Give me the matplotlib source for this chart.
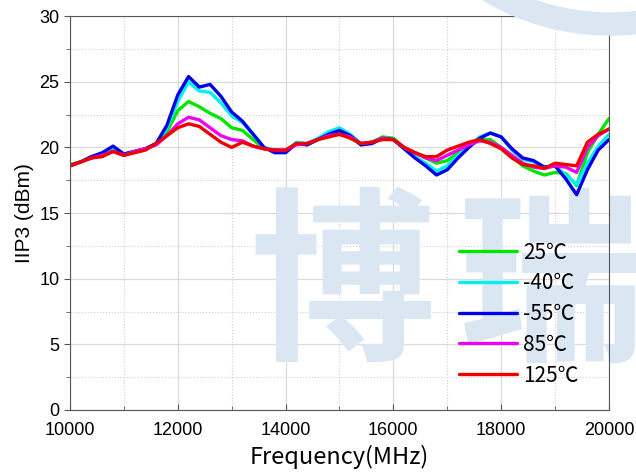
import numpy as np
import matplotlib.pyplot as plt
from matplotlib.patches import Wedge
from matplotlib.transforms import IdentityTransform
from matplotlib.ticker import MultipleLocator

plt.rcParams['font.family'] = ['Noto Sans CJK SC', 'DejaVu Sans']

# Frequency grid (MHz)
freq = np.arange(10000, 20001, 200)

# IIP3 (dBm) per temperature
iip3_25 = [18.7, 18.9, 19.3, 19.4, 19.7, 19.4, 19.7, 19.9, 20.3, 21.2,
           22.8, 23.5, 23.1, 22.6, 22.2, 21.5, 21.3, 20.6, 19.9, 19.8,
           19.7, 20.3, 20.2, 20.6, 20.9, 21.1, 20.8, 20.2, 20.4, 20.8,
           20.7, 20.0, 19.6, 19.2, 18.8, 19.0, 19.6, 20.2, 20.6, 20.6,
           20.0, 19.3, 18.6, 18.2, 17.9, 18.1, 18.0, 17.1, 19.6, 21.0, 22.2]
iip3_m40 = [18.6, 18.9, 19.2, 19.5, 19.8, 19.5, 19.7, 19.9, 20.3, 21.5,
            23.5, 25.0, 24.3, 24.2, 23.4, 22.4, 21.9, 21.0, 20.0, 19.8,
            19.7, 20.4, 20.3, 20.7, 21.2, 21.5, 21.0, 20.3, 20.3, 20.7,
            20.6, 19.9, 19.3, 18.8, 18.2, 18.6, 19.4, 20.1, 20.8, 21.1,
            20.8, 19.8, 19.1, 18.9, 18.5, 18.6, 17.9, 17.2, 18.8, 20.1, 21.0]
iip3_m55 = [18.6, 18.9, 19.3, 19.6, 20.1, 19.5, 19.7, 19.9, 20.3, 21.7,
            24.0, 25.4, 24.6, 24.8, 23.9, 22.7, 22.0, 21.0, 20.0, 19.6,
            19.6, 20.3, 20.2, 20.6, 21.0, 21.3, 20.9, 20.2, 20.3, 20.7,
            20.6, 19.9, 19.2, 18.6, 17.9, 18.3, 19.2, 20.0, 20.7, 21.1,
            20.8, 19.9, 19.2, 19.0, 18.5, 18.6, 17.6, 16.4, 18.3, 19.8, 20.6]
iip3_85 = [18.6, 18.9, 19.2, 19.4, 19.7, 19.4, 19.7, 19.9, 20.2, 20.9,
           21.8, 22.3, 22.1, 21.5, 20.9, 20.6, 20.5, 20.1, 19.9, 19.8,
           19.8, 20.2, 20.3, 20.6, 20.9, 21.0, 20.8, 20.3, 20.4, 20.7,
           20.6, 20.0, 19.6, 19.2, 19.0, 19.4, 19.8, 20.2, 20.5, 20.4,
           20.0, 19.4, 18.8, 18.5, 18.4, 18.6, 18.5, 18.1, 20.0, 20.9, 21.4]
iip3_125 = [18.6, 18.9, 19.2, 19.3, 19.7, 19.4, 19.6, 19.8, 20.3, 20.9,
            21.5, 21.8, 21.6, 21.0, 20.4, 20.0, 20.4, 20.1, 19.9, 19.8,
            19.8, 20.3, 20.3, 20.6, 20.8, 21.0, 20.7, 20.3, 20.4, 20.6,
            20.6, 20.0, 19.6, 19.3, 19.3, 19.8, 20.1, 20.4, 20.6, 20.3,
            19.9, 19.2, 18.7, 18.6, 18.4, 18.8, 18.7, 18.6, 20.4, 21.0, 21.4]

series = [
    ('25℃', iip3_25, '#00e600'),
    ('-40℃', iip3_m40, '#00f0f0'),
    ('-55℃', iip3_m55, '#0000e6'),
    ('85℃', iip3_85, '#f000f0'),
    ('125℃', iip3_125, '#f00000'),
]

fig = plt.figure(figsize=(6.36, 4.76), dpi=100)
ax = fig.add_axes([0.110, 0.1387, 0.8475, 0.8273])

# background logo: ring arc + characters (between grid and curves)
wm = '#dae7f3'
fig.patches.append(Wedge((610, 689), 248, 0, 360, width=22, color=wm,
                         transform=IdentityTransform(), zorder=0))
for ch, xc in [('博', 0.539), ('瑞', 0.865)]:
    ax.text(xc, 0.389, ch, transform=fig.transFigure, fontsize=134,
            fontweight='heavy', color=wm, ha='center', va='center',
            clip_on=False, zorder=1.2)
ax.patch.set_alpha(0)

for label, y, c in series:
    ax.plot(freq, y, color=c, lw=2.4, label=label, solid_joinstyle='round',
            solid_capstyle='round', zorder=2)

ax.set_xlim(10000, 20000)
ax.set_ylim(0, 30)
ax.xaxis.set_major_locator(MultipleLocator(2000))
ax.xaxis.set_minor_locator(MultipleLocator(1000))
ax.yaxis.set_major_locator(MultipleLocator(5))
ax.yaxis.set_minor_locator(MultipleLocator(2.5))
ax.grid(True, which='major', color='#dadada', lw=0.9)
ax.grid(True, which='minor', color='#cfcfcf', lw=0.8, ls=':')
ax.set_axisbelow(True)
ax.tick_params(which='both', labelsize=13, color='#555555',
               labelfontfamily='Liberation Sans')
ax.tick_params(axis='x', which='both', direction='in', pad=9)
ax.tick_params(axis='y', which='both', direction='out')
ax.tick_params(which='major', length=4)
ax.tick_params(which='minor', length=3)
for s in ax.spines.values():
    s.set_color('#555555')

ax.set_xlabel('Frequency(MHz)', fontsize=17, labelpad=4)
ax.set_ylabel('IIP3 (dBm)', fontsize=15, labelpad=4, family='Liberation Sans')

ax.legend(loc='lower right', bbox_to_anchor=(0.979, 0.012), frameon=False,
          fontsize=15, handlelength=2.8, handletextpad=0.3, labelspacing=0.42)

fig.savefig('out.png', dpi=100)
